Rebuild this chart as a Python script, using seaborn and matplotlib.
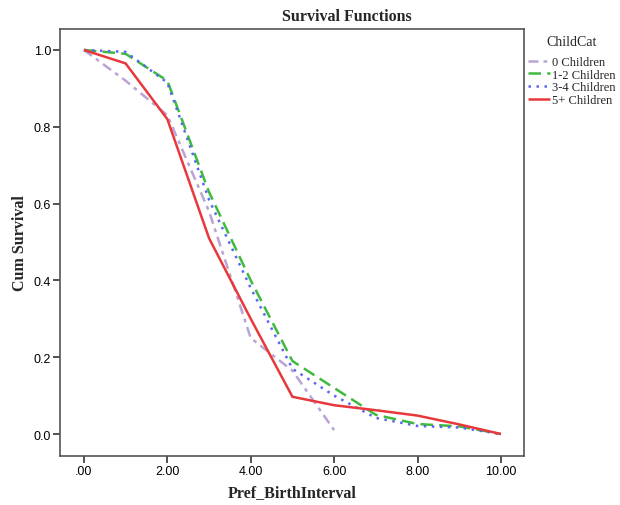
import matplotlib
matplotlib.use("Agg")
import matplotlib.pyplot as plt
import seaborn as sns
import pandas as pd

# Survival curve values
interval = [0, 1, 2, 3, 4, 5, 6, 7, 8, 9, 10]
surv_0 = [1.0, 0.92, 0.83, 0.58, 0.25, 0.165, 0.01]
surv_12 = [1.0, 0.99, 0.92, 0.63, 0.40, 0.19, 0.12, 0.05, 0.026, 0.02, 0.0]
surv_34 = [1.0, 0.995, 0.915, 0.61, 0.38, 0.17, 0.10, 0.042, 0.021, 0.017, 0.0]
surv_5 = [1.0, 0.965, 0.82, 0.51, 0.30, 0.097, 0.075, 0.062, 0.048, 0.025, 0.0]
groups = ['0 Children', '1-2 Children', '3-4 Children', '5+ Children']
xtick_vals = [0, 2, 4, 6, 8, 10]
xtick_labels = ['.00', '2.00', '4.00', '6.00', '8.00', '10.00']

rows = []
for g, vals in zip(groups, [surv_0, surv_12, surv_34, surv_5]):
    for x, v in zip(interval, vals):
        rows.append({'Pref_BirthInterval': x, 'Cum Survival': v, 'ChildCat': g})
df = pd.DataFrame(rows)

sns.set_style("ticks")
fig = plt.figure(figsize=(6.2, 5.06), dpi=100)
ax = fig.add_axes([0.097, 0.097, 0.748, 0.844])

colors = ['#BCA3D6', '#3DBB3D', '#5B66F2', '#E8383C']
dashes = [(4, 2, 1.5, 2), (5, 2.5), (1, 2.2), (1, 0)]
for g, c, d in zip(groups, colors, dashes):
    sub = df[df['ChildCat'] == g]
    sns.lineplot(data=sub, x='Pref_BirthInterval', y='Cum Survival', ax=ax,
                 color=c, linewidth=1.8, label=g, dashes=False)
    ax.lines[-1].set_dashes(d)

ax.set_xlim(-0.57, 10.55)
ax.set_ylim(-0.057, 1.055)
ax.set_xticks(xtick_vals)
ax.set_xticklabels(xtick_labels)
ax.set_yticks([0, 0.2, 0.4, 0.6, 0.8, 1.0])
ax.set_yticklabels(['0.0', '0.2', '0.4', '0.6', '0.8', '1.0'])
ax.tick_params(direction='out', length=5, width=1.2, colors='#333333',
               labelsize=9, pad=1.5)
for lab in ax.get_xticklabels() + ax.get_yticklabels():
    lab.set_family('Liberation Sans')
    lab.set_color('black')
for s in ax.spines.values():
    s.set_linewidth(1.2)
    s.set_color('#555555')

ax.set_xlabel('Pref_BirthInterval', family='Liberation Serif', fontweight='bold',
              fontsize=11.5, labelpad=5)
ax.set_ylabel('Cum Survival', family='Liberation Serif', fontweight='bold',
              fontsize=11.5, labelpad=4)
fig.text(0.56, 0.966, 'Survival Functions', ha='center', va='center',
         family='Liberation Serif', fontweight='bold', fontsize=11.5)

fig.text(572 / 620, 1 - 42 / 506, 'ChildCat', ha='center', va='center',
         family='Liberation Serif', fontsize=10)
leg = ax.legend(loc='upper left', bbox_to_anchor=(0.851, 0.887),
                bbox_transform=fig.transFigure, frameon=False,
                handlelength=1.8, handletextpad=0.15,
                labelspacing=0.05, borderaxespad=0, borderpad=0,
                prop={'family': 'Liberation Serif', 'size': 9})

fig.savefig('out.png', dpi=100)
